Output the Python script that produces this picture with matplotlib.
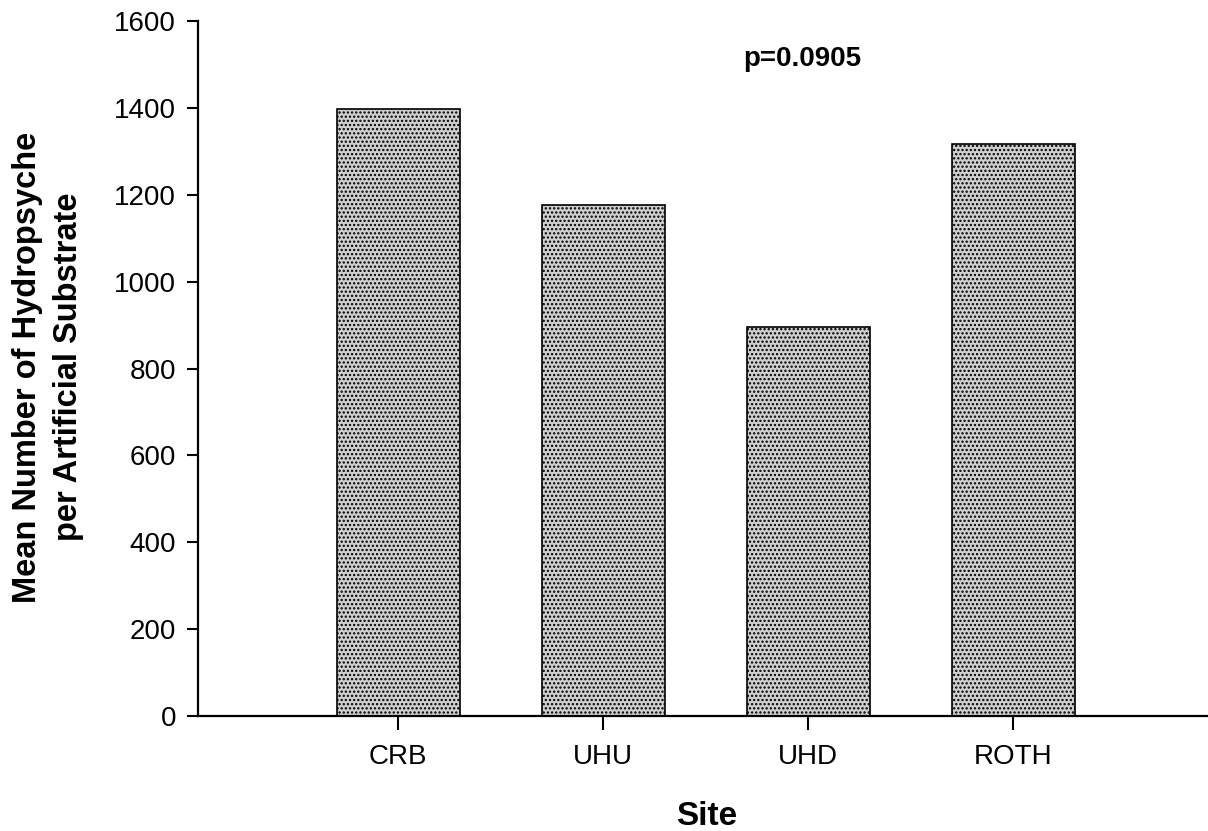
import matplotlib
matplotlib.use("Agg")
import matplotlib.pyplot as plt

sites = ["CRB", "UHU", "UHD", "ROTH"]
mean_counts = [1398, 1177, 896, 1316]
y_ticks = [0, 200, 400, 600, 800, 1000, 1200, 1400, 1600]
p_label = "p=0.0905"

plt.rcParams["font.family"] = ["Liberation Sans", "DejaVu Sans"]
plt.rcParams["hatch.color"] = "#3a3a3a"
plt.rcParams["hatch.linewidth"] = 1.1

fig = plt.figure(figsize=(12.08, 8.31), dpi=100)
ax = fig.add_axes([0.164, 0.1384, 0.836, 0.8363])

x = list(range(len(sites)))
ax.bar(x, mean_counts, width=0.6, facecolor="#cfcfcf", edgecolor="black",
       linewidth=1.2, hatch="....")

ax.set_xlim(-0.975, 3.95)
ax.set_ylim(0, 1600)
ax.set_xticks(x)
ax.set_xticklabels(sites)
ax.set_yticks(y_ticks)

for side in ("top", "right"):
    ax.spines[side].set_visible(False)
for side in ("left", "bottom"):
    ax.spines[side].set_linewidth(1.6)

ax.tick_params(axis="y", direction="out", length=8, width=1.5, labelsize=20, pad=8)
ax.tick_params(axis="x", direction="out", length=10, width=1.5, labelsize=20, pad=10)

ax.set_xlabel("Site", fontsize=24, fontweight="bold")
ax.xaxis.set_label_coords(0.504, -0.122)
ax.set_ylabel("Mean Number of Hydropsyche\nper Artificial Substrate",
              fontsize=23.5, fontweight="bold", linespacing=1.4)
ax.yaxis.set_label_coords(-0.113, 0.502)

ax.text(1.97, 1513, p_label, fontsize=20, fontweight="bold",
        ha="center", va="center")

fig.savefig("out.png", dpi=100)
